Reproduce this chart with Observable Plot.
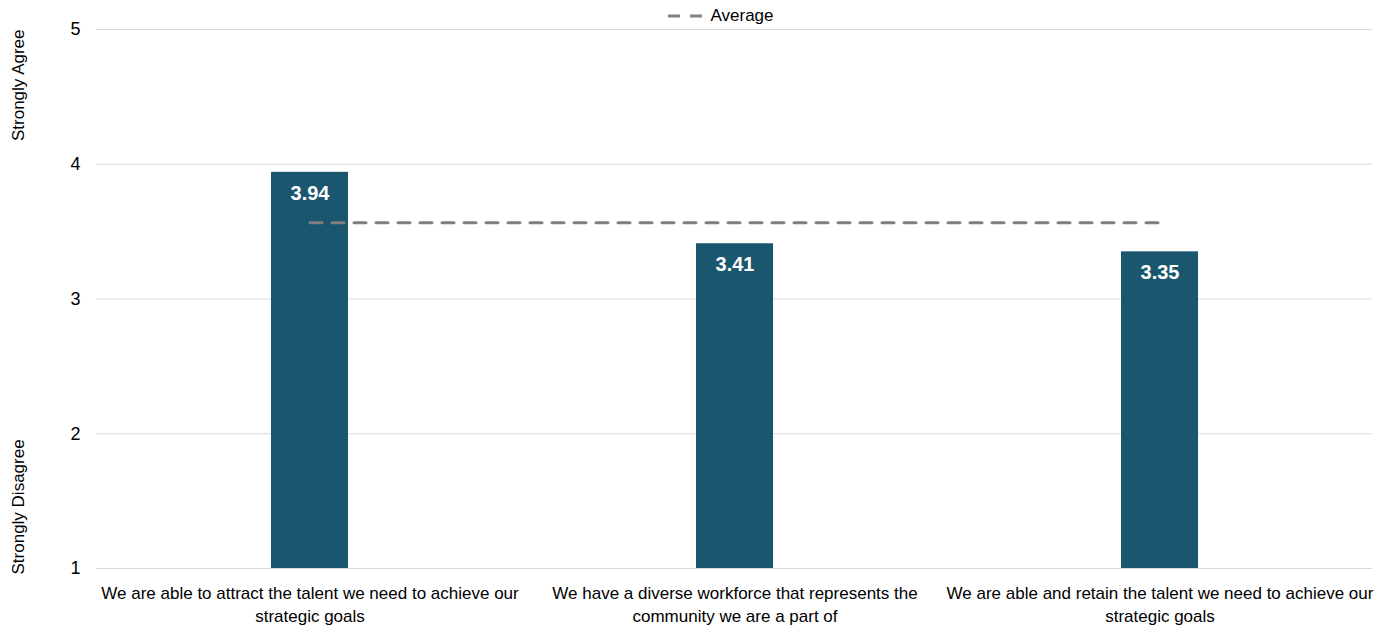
<!DOCTYPE html>
<html>
<head>
<meta charset="utf-8">
<script src="https://cdn.jsdelivr.net/npm/d3@7"></script>
<script src="https://cdn.jsdelivr.net/npm/@observablehq/plot@0.6"></script>
<style>
  html, body { margin: 0; padding: 0; background: #fff; }
  body { position: relative; width: 1388px; height: 633px; overflow: hidden; font-family: "Liberation Sans Narrow", "Arial Narrow", "Liberation Sans", Arial, sans-serif; }
  #legend { position: absolute; left: 0; top: 0; width: 1388px; height: 26px; display: flex; justify-content: center; align-items: center; padding-left: 54px; padding-top: 6px; box-sizing: border-box; font-size: 17px; color: #000; z-index: 2; }
  #legend svg { margin-right: 6px; }
  #legend span { line-height: 18px; }
</style>
</head>
<body>
<div id="legend"></div>
<div id="chart"></div>
<script>
const categories = [
  "We are able to attract the talent we need to achieve our\nstrategic goals",
  "We have a diverse workforce that represents the\ncommunity we are a part of",
  "We are able and retain the talent we need to achieve our\nstrategic goals"
];
const values = [3.94, 3.41, 3.35];
const averageLabel = "Average";
const yTicks = [1, 2, 3, 4, 5];
const topLabel = "Strongly Agree";
const bottomLabel = "Strongly Disagree";

const average = d3.mean(values);
const data = categories.map((c, i) => ({category: c, value: values[i]}));
const avgData = categories.map(c => ({category: c, value: average}));

const barColor = "#1b566f";
const font = '"Liberation Sans Narrow", "Arial Narrow", "Liberation Sans", Arial, sans-serif';

// legend
const legend = document.getElementById("legend");
legend.innerHTML = `<svg width="36" height="4"><line x1="0" x2="36" y1="2" y2="2" stroke="#808080" stroke-width="3" stroke-dasharray="12,10"/></svg><span>${averageLabel}</span>`;

const chart = Plot.plot({
  width: 1388,
  height: 633,
  marginTop: 29,
  marginBottom: 65,
  marginLeft: 96,
  marginRight: 16,
  style: {fontFamily: font, fontSize: "17px", color: "#000", background: "#fff"},
  x: {domain: categories, paddingInner: 0.82, paddingOuter: 0.41, label: null},
  y: {domain: [1, 5], label: null},
  marks: [
    Plot.gridY(yTicks, {stroke: "#d9d9d9", strokeOpacity: 1, strokeWidth: 1}),
    Plot.axisY(yTicks, {tickSize: 0, tickPadding: 16, fontSize: 18, tickFormat: d => String(d), label: null}),
    Plot.axisX({tickSize: 0, tickPadding: 14, fontSize: 17, lineHeight: 1.35, label: null}),
    Plot.barY(data, {x: "category", y1: 1, y2: "value", fill: barColor}),
    Plot.text(data, {x: "category", y: "value", text: d => d.value.toFixed(2), fill: "#fff", fontWeight: "bold", fontSize: 20, dy: 21}),
    Plot.line(avgData, {x: "category", y: "value", stroke: "#808080", strokeWidth: 3, strokeDasharray: "12,10"}),
    Plot.text([topLabel], {y: [5], text: d => d, frameAnchor: "left", dx: -78, rotate: -90, textAnchor: "end", fontSize: 17, fill: "#000"}),
    Plot.text([bottomLabel], {y: [1], text: d => d, frameAnchor: "left", dx: -78, dy: 6, rotate: -90, textAnchor: "start", fontSize: 17, fill: "#000"})
  ]
});
document.getElementById("chart").appendChild(chart);
</script>
</body>
</html>
